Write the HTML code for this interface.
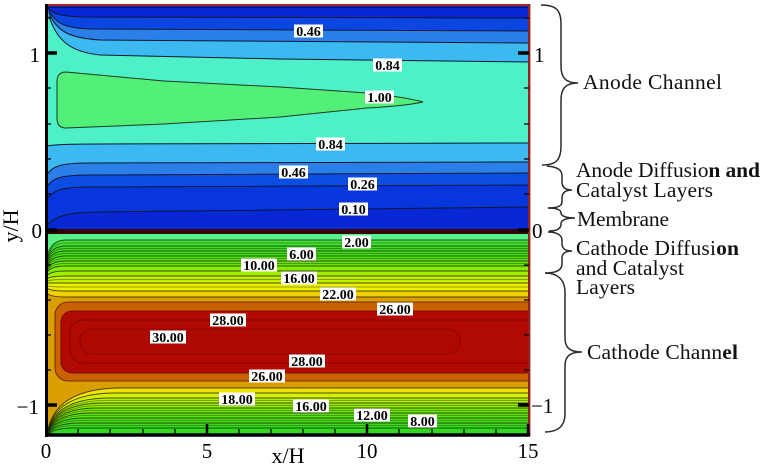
<!DOCTYPE html>
<html><head><meta charset="utf-8"><style>
html,body{margin:0;padding:0;background:#fff;width:761px;height:476px;overflow:hidden}
svg{display:block}
text{font-family:"Liberation Serif","Times New Roman",serif;fill:#000}
.lb{font-size:14px;font-weight:bold}
.tk{font-size:21px}
.an{font-size:21.5px;fill:#111}
</style></head><body>
<svg width="761" height="476" viewBox="0 0 761 476" xmlns="http://www.w3.org/2000/svg">
<defs><clipPath id="pa"><rect x="46" y="5" width="483" height="430"/></clipPath></defs>
<g clip-path="url(#pa)">
<!-- ANODE -->
<rect x="46" y="5" width="483" height="226" fill="#4ef0c8"/>
<path d="M46,5 L529,5 L529,62 L280,59 L100,55 C72,52 57,42 49,16 L46,16 Z" fill="#3cb9f1"/>
<path d="M46,5 L529,5 L529,43 L100,40 C70,38 57,32 49,13 L46,13 Z" fill="#2a80e8"/>
<path d="M46,5 L529,5 L529,31 L90,29 C66,28 56,24 49,11 L46,11 Z" fill="#0c46e2"/>
<path d="M46,5 L529,5 L529,18 L80,17 C62,16 53,14 48,8 L46,8 Z" fill="#0828d6"/>
<path d="M46,146 C60,144 80,144 100,144 L529,143 L529,231 L46,231 Z" fill="#3cb9f1"/>
<path d="M46,176 C52,166 60,163 90,163 L529,162 L529,231 L46,231 Z" fill="#2a80e8"/>
<path d="M46,188 C52,178 60,175 90,175 L529,173 L529,231 L46,231 Z" fill="#0c4ee4"/>
<path d="M46,200 C53,190 62,187 90,187 L529,185 L529,231 L46,231 Z" fill="#0636dc"/>
<path d="M46,227 C55,215 70,212 100,212 L529,207 L529,231 L46,231 Z" fill="#0828d6"/>
<g fill="none" stroke="#0a1830" stroke-width="1">
<path d="M529,62 L280,59 L100,55 C72,52 57,42 49,16"/>
<path d="M529,43 L100,40 C70,38 57,32 49,13"/>
<path d="M529,31 L90,29 C66,28 56,24 49,11"/>
<path d="M529,18 L80,17 C62,16 53,14 48,8"/>
<path d="M46,146 C60,144 80,144 100,144 L529,143"/>
<path d="M46,176 C52,166 60,163 90,163 L529,162"/>
<path d="M46,188 C52,178 60,175 90,175 L529,173"/>
<path d="M46,200 C53,190 62,187 90,187 L529,185"/>
<path d="M46,227 C55,215 70,212 100,212 L529,207"/>
<path d="M46,7.5 L529,7.5"/>
</g>
<path d="M57,82 Q57,72 66,72 L164,81 L280,87 L367,93 Q405,97 423,102 Q405,106 367,108 L280,117 L164,124 L66,128 Q57,128 57,118 Z" fill="#52f078" stroke="#1a3a20" stroke-width="1"/>
<rect x="46" y="229" width="483" height="5" fill="#340404"/>
<!-- CATHODE -->
<rect x="46" y="234" width="483" height="202" fill="#d99e00"/>
<path d="M46,234 L529,234 L529,297 L66,297 Q50,297 47,293 L46,293 Z" fill="#f0d000"/>
<path d="M46,234 L529,234 L529,291 L66,291 Q50,291 47,288 L46,288 Z" fill="#ecf000"/>
<path d="M46,234 L529,234 L529,283 L66,283 Q50,283 47,283 L46,283 Z" fill="#c4f000"/>
<path d="M46,234 L529,234 L529,276 L66,276 Q50,276 47,279 L46,279 Z" fill="#a0ee00"/>
<path d="M46,234 L529,234 L529,271 L66,271 Q50,271 47,276 L46,276 Z" fill="#84ec00"/>
<path d="M46,234 L529,234 L529,266 L66,266 Q50,266 47,273 L46,273 Z" fill="#66e808"/>
<path d="M46,234 L529,234 L529,261 L66,261 Q50,261 47,270 L46,270 Z" fill="#50e410"/>
<path d="M46,234 L529,234 L529,256 L66,256 Q50,256 47,267 L46,267 Z" fill="#42e018"/>
<path d="M46,234 L529,234 L529,251 L66,251 Q50,251 47,264 L46,264 Z" fill="#3ade24"/>
<path d="M46,234 L529,234 L529,246 L66,246 Q50,246 47,261 L46,261 Z" fill="#40e438"/>
<path d="M46,234 L529,234 L529,240 L66,240 Q50,240 47,258 L46,258 Z" fill="#58f088"/>
<g fill="none" stroke="#1c1a00" stroke-opacity="0.75" stroke-width="0.9">
<path d="M529,297 L66,297 Q50,297 47,293"/>
<path d="M529,291 L66,291 Q50,291 47,288"/>
<path d="M529,283 L66,283 Q50,283 47,283"/>
<path d="M529,276 L66,276 Q50,276 47,279"/>
<path d="M529,271 L66,271 Q50,271 47,276"/>
<path d="M529,266 L66,266 Q50,266 47,273"/>
<path d="M529,261 L66,261 Q50,261 47,270"/>
<path d="M529,256 L66,256 Q50,256 47,267"/>
<path d="M529,251 L66,251 Q50,251 47,264"/>
<path d="M529,246 L66,246 Q50,246 47,261"/>
<path d="M529,240 L66,240 Q50,240 47,258"/>
</g>
<g fill="none" stroke="#1c2a00" stroke-opacity="0.55" stroke-width="0.8">
<path d="M529,243 L66,243 Q50,243 47,259.5"/>
<path d="M529,248.5 L66,248.5 Q50,248.5 47,262.5"/>
<path d="M529,253.5 L66,253.5 Q50,253.5 47,265.5"/>
<path d="M529,258.5 L66,258.5 Q50,258.5 47,268.5"/>
<path d="M529,263.5 L66,263.5 Q50,263.5 47,271.5"/>
<path d="M529,279.5 L66,279.5 Q50,279.5 47,281"/>
<path d="M529,287 L66,287 Q50,287 47,285.5"/>
</g>
<rect x="55" y="302" width="490" height="79" rx="13" fill="#c86200" stroke="#5a1a00" stroke-width="0.8"/>
<rect x="61" y="311" width="490" height="62" rx="11" fill="#b10a02" stroke="#6a0000" stroke-width="0.8"/>
<rect x="70" y="320" width="480" height="43" rx="13" fill="none" stroke="#8a0000" stroke-width="1"/>
<rect x="80" y="329" width="380" height="25" rx="12" fill="#ad0802" stroke="#8a0000" stroke-width="0.8"/>
<path d="M529,388 L122,388 Q52,388 47,436 L529,436 Z" fill="#f0e400"/>
<path d="M529,393 L116,393 Q52,393 47,436 L529,436 Z" fill="#d4f000"/>
<path d="M529,398 L110,398 Q52,398 47,436 L529,436 Z" fill="#b0ee00"/>
<path d="M529,403 L104,403 Q52,403 47,436 L529,436 Z" fill="#90ec00"/>
<path d="M529,408 L98,408 Q52,408 47,436 L529,436 Z" fill="#70e800"/>
<path d="M529,413 L92,413 Q52,413 47,436 L529,436 Z" fill="#58e410"/>
<path d="M529,418 L86,418 Q52,418 47,436 L529,436 Z" fill="#46e018"/>
<path d="M529,423 L80,423 Q52,423 47,436 L529,436 Z" fill="#3adc20"/>
<path d="M529,428 L74,428 Q52,428 47,436 L529,436 Z" fill="#32d820"/>
<g fill="none" stroke="#1c1a00" stroke-opacity="0.75" stroke-width="0.9">
<path d="M529,388 L122,388 Q52,388 47,436"/>
<path d="M529,393 L116,393 Q52,393 47,436"/>
<path d="M529,398 L110,398 Q52,398 47,436"/>
<path d="M529,403 L104,403 Q52,403 47,436"/>
<path d="M529,408 L98,408 Q52,408 47,436"/>
<path d="M529,413 L92,413 Q52,413 47,436"/>
<path d="M529,418 L86,418 Q52,418 47,436"/>
<path d="M529,423 L80,423 Q52,423 47,436"/>
<path d="M529,428 L74,428 Q52,428 47,436"/>
</g>
<g fill="none" stroke="#1c2a00" stroke-opacity="0.5" stroke-width="0.8">
<path d="M529,400.5 L107,400.5 Q52,400.5 47,436"/>
<path d="M529,405.5 L101,405.5 Q52,405.5 47,436"/>
<path d="M529,410.5 L95,410.5 Q52,410.5 47,436"/>
<path d="M529,415.5 L89,415.5 Q52,415.5 47,436"/>
<path d="M529,420.5 L83,420.5 Q52,420.5 47,436"/>
<path d="M529,425.5 L77,425.5 Q52,425.5 47,436"/>
</g>
</g>
<!-- contour labels -->
<g fill="#fff">
<rect x="294" y="24.5" width="29" height="13"/>
<rect x="373" y="58.5" width="29" height="13"/>
<rect x="365" y="90.5" width="29" height="13"/>
<rect x="316" y="137.5" width="29" height="13"/>
<rect x="279" y="165.5" width="29" height="13"/>
<rect x="348" y="177.5" width="29" height="13"/>
<rect x="339" y="202.5" width="29" height="13"/>
<rect x="342" y="235.5" width="29" height="13"/>
<rect x="287" y="247.5" width="29" height="13"/>
<rect x="241" y="258.5" width="36" height="13"/>
<rect x="281" y="271.5" width="36" height="13"/>
<rect x="320" y="287.5" width="36" height="13"/>
<rect x="377" y="302.5" width="36" height="13"/>
<rect x="210" y="313.5" width="36" height="13"/>
<rect x="150" y="330.5" width="36" height="13"/>
<rect x="289" y="354.5" width="36" height="13"/>
<rect x="249" y="369.5" width="36" height="13"/>
<rect x="219" y="392.5" width="36" height="13"/>
<rect x="293" y="399.5" width="36" height="13"/>
<rect x="354" y="408.5" width="36" height="13"/>
<rect x="408" y="414.5" width="29" height="13"/>
</g>
<g text-anchor="middle">
<text class="lb" x="308.5" y="36">0.46</text>
<text class="lb" x="387.5" y="70">0.84</text>
<text class="lb" x="379.5" y="102">1.00</text>
<text class="lb" x="330.5" y="149">0.84</text>
<text class="lb" x="293.5" y="177">0.46</text>
<text class="lb" x="362.5" y="189">0.26</text>
<text class="lb" x="353.5" y="214">0.10</text>
<text class="lb" x="356.5" y="247">2.00</text>
<text class="lb" x="301.5" y="259">6.00</text>
<text class="lb" x="259" y="270">10.00</text>
<text class="lb" x="299" y="283">16.00</text>
<text class="lb" x="338" y="299">22.00</text>
<text class="lb" x="395" y="314">26.00</text>
<text class="lb" x="228" y="325">28.00</text>
<text class="lb" x="168" y="342">30.00</text>
<text class="lb" x="307" y="366">28.00</text>
<text class="lb" x="267" y="381">26.00</text>
<text class="lb" x="237" y="404">18.00</text>
<text class="lb" x="311" y="411">16.00</text>
<text class="lb" x="372" y="420">12.00</text>
<text class="lb" x="422.5" y="426">8.00</text>
</g>
<!-- frame -->
<line x1="46" y1="5" x2="530" y2="5" stroke="#a02828" stroke-width="2"/>
<line x1="529.2" y1="4" x2="529.2" y2="436" stroke="#9a2020" stroke-width="2.4"/>
<line x1="46.5" y1="4" x2="46.5" y2="437" stroke="#000" stroke-width="3"/>
<line x1="45" y1="435" x2="530" y2="435" stroke="#000" stroke-width="3.5"/>
<!-- ticks -->
<g stroke="#000" stroke-width="3.5">
<path d="M46,53 H57 M46,230 H57 M46,405 H57 M518,53 H529 M518,230 H529 M518,405 H529"/>
<path d="M207,435 V424 M367,435 V424 M528,435 V424" stroke-width="2.5"/>
</g>
<g stroke="#000" stroke-width="1.3">
<path d="M46,18 H51 M46,88 H51 M46,124 H51 M46,159 H51 M46,194 H51 M46,265 H51 M46,300 H51 M46,335 H51 M46,370 H51"/>
<path d="M524,18 H529 M524,88 H529 M524,124 H529 M524,159 H529 M524,194 H529 M524,265 H529 M524,300 H529 M524,335 H529 M524,370 H529"/>
<path d="M78,435 V429 M110,435 V429 M143,435 V429 M175,435 V429 M239,435 V429 M271,435 V429 M303,435 V429 M335,435 V429 M399,435 V429 M432,435 V429 M464,435 V429 M496,435 V429"/>
</g>
<!-- tick labels -->
<g>
<text class="tk" x="40" y="62" text-anchor="end">1</text>
<text class="tk" x="42" y="238" text-anchor="end">0</text>
<text class="tk" x="39" y="414" text-anchor="end">−1</text>
<text class="tk" x="534" y="62">1</text>
<text class="tk" x="532" y="238">0</text>
<text class="tk" x="531" y="413">−1</text>
<text class="tk" x="46" y="458" text-anchor="middle">0</text>
<text class="tk" x="207" y="458" text-anchor="middle">5</text>
<text class="tk" x="367" y="458" text-anchor="middle">10</text>
<text class="tk" x="528" y="458" text-anchor="middle">15</text>
</g>
<text x="288" y="463" text-anchor="middle" style="font-size:22px">x/H</text>
<text transform="translate(18,226) rotate(-90)" text-anchor="middle" style="font-size:22px">y/H</text>
<!-- braces -->
<g fill="none" stroke="#2a2a2a" stroke-width="1.5">
<path d="M541,5 C556,5 561,10 561,24 L561,66 C561,78 566,83 578,83 C566,83 561,88 561,100 L561,146 C561,160 556,165 542,165"/>
<path d="M547,166 C558,167 562,170 562,176 L562,182 C562,187 565,190 572,190 C565,190 562,193 562,198 L562,202 C562,206 558,208 548,208"/>
<path d="M548,208 C558,208 561,210 561,213 C561,216 566,218 575,218 C566,218 561,220 561,224 C561,228 558,231 549,231"/>
<path d="M548,232 C558,232 562,236 562,240 L562,244 C562,248 565,251 572,251 C565,251 562,254 562,258 L562,264 C562,270 556,273 545,273"/>
<path d="M545,273 C558,273 565,280 565,292 L565,338 C565,348 570,352 582,352 C570,352 565,356 565,366 L565,414 C565,426 558,432 545,432"/>
</g>
<g>
<text class="an" x="583" y="89" textLength="139">Anode Channel</text>
<text class="an" x="576" y="177" textLength="184">Anode Diffusio<tspan font-weight="bold">n and</tspan></text>
<text class="an" x="576" y="197" textLength="137">Catalyst Layers</text>
<text class="an" x="577" y="226" textLength="92">Membrane</text>
<text class="an" x="576" y="255" textLength="163">Cathode Diffusi<tspan font-weight="bold">on</tspan></text>
<text class="an" x="576" y="275" textLength="108">and Catalyst</text>
<text class="an" x="576" y="294" textLength="59">Layers</text>
<text class="an" x="587" y="359" textLength="151">Cathode Chann<tspan font-weight="bold">el</tspan></text>
</g>
</svg>
</body></html>
